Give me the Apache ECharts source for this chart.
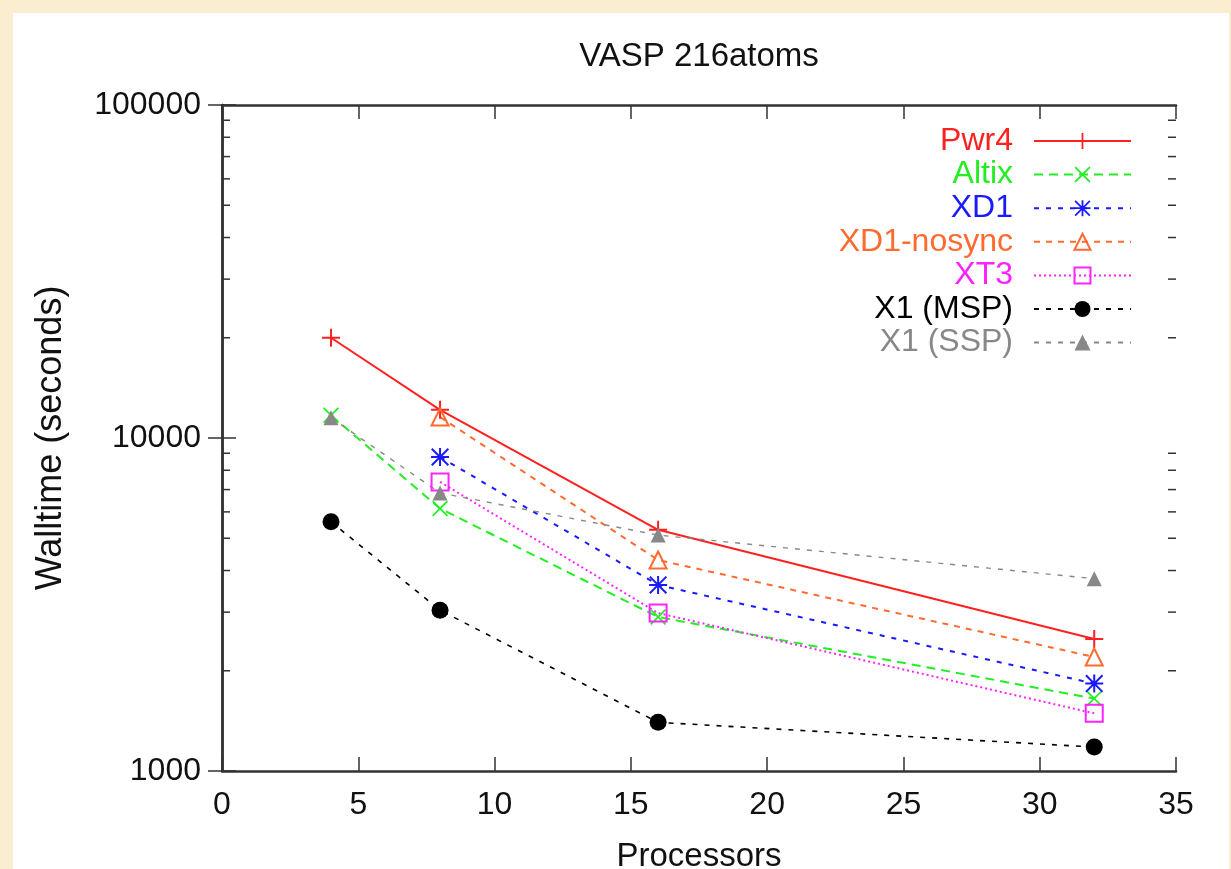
<!DOCTYPE html>
<html>
<head>
<meta charset="utf-8">
<script src="https://cdn.jsdelivr.net/npm/echarts@6/dist/echarts.min.js"></script>
<style>
html,body{margin:0;padding:0;width:1231px;height:869px;background:#FBEDCF;overflow:hidden;}
#panel{position:absolute;left:13px;top:13px;width:1216px;height:856px;background:#ffffff;}
#chart{position:absolute;left:0;top:0;width:1231px;height:869px;}
</style>
</head>
<body>
<div id="panel"></div>
<div id="chart"></div>
<script>
// ---- data ----
const processors = [4, 8, 16, 32];
const seriesNames = ['Pwr4', 'Altix', 'XD1', 'XD1-nosync', 'XT3', 'X1 (MSP)', 'X1 (SSP)'];
const pwr4   = [20000, 12150, 5300, 2490];
const altix  = [11700, 6140, 2900, 1650];
const xd1    = [null, 8770, 3620, 1830];
const nosync = [null, 11560, 4300, 2200];
const xt3    = [null, 7380, 2980, 1490];
const x1msp  = [5600, 3040, 1400, 1180];
const x1ssp  = [11500, 6840, 5110, 3780];
const xTicks = [0, 5, 10, 15, 20, 25, 30, 35];
const yTickLabels = { 1000: '1000', 10000: '10000', 100000: '100000' };
const yMinorTicks = [2000, 3000, 4000, 5000, 6000, 7000, 8000, 9000,
                     20000, 30000, 40000, 50000, 60000, 70000, 80000, 90000];

// ---- styling ----
const FONT = 'Liberation Sans';
const plusPath = 'path://M8,0h2v8h8v2h-8v8h-2v-8h-8v-2h8z';
const xPath = 'path://M0,1.4L1.4,0L18,16.6L16.6,18Z M16.6,0L18,1.4L1.4,18L0,16.6Z';
const starPath = 'path://M8,0h2v8h8v2h-8v8h-2v-8h-8v-2h8z M0,1.4L1.4,0L18,16.6L16.6,18Z M16.6,0L18,1.4L1.4,18L0,16.6Z';

const styles = [
  { color: '#FF2020', symbol: plusPath, size: 18, fill: true, dash: 'solid', width: 2 },
  { color: '#22EE22', symbol: xPath, size: 16, fill: true, dash: [9, 6], width: 2 },
  { color: '#1A1AFF', symbol: starPath, size: 18, fill: true, dash: [5, 7], width: 2 },
  { color: '#FF6A30', symbol: 'triangle', size: 17, fill: false, dash: [6, 6], width: 2 },
  { color: '#FF22FF', symbol: 'rect', size: 17, fill: false, dash: [2, 3], width: 2 },
  { color: '#000000', symbol: 'circle', size: 17, fill: true, dash: [5, 7], width: 1.6 },
  { color: '#888888', symbol: 'triangle', size: 15, fill: true, dash: [5, 7], width: 1.4 }
];
const allValues = [pwr4, altix, xd1, nosync, xt3, x1msp, x1ssp];

const series = seriesNames.map((name, i) => {
  const s = styles[i];
  const data = [];
  processors.forEach((p, j) => { if (allValues[i][j] != null) data.push([p, allValues[i][j]]); });
  return {
    name: name,
    type: 'line',
    data: data,
    symbol: s.symbol,
    symbolSize: s.size,
    showAllSymbol: true,
    animation: false,
    lineStyle: { color: s.color, width: s.width, type: s.dash },
    itemStyle: s.fill
      ? { color: s.color, borderWidth: 0 }
      : { color: 'rgba(255,255,255,0)', borderColor: s.color, borderWidth: 2 },
    emphasis: { disabled: true }
  };
});

const axisLineStyle = { color: '#333333', width: 2.5 };
const tickStyle = { color: '#333333', width: 1.5 };

const chart = echarts.init(document.getElementById('chart'), null, { renderer: 'canvas', width: 1231, height: 869 });
const option = {
  backgroundColor: 'transparent',
  animation: false,
  title: {
    text: 'VASP 216atoms',
    left: 699, textAlign: 'center', top: 40, padding: 0,
    textStyle: { fontFamily: FONT, fontSize: 33, fontWeight: 'normal', color: '#111' }
  },
  legend: {
    orient: 'vertical',
    right: 99, top: 125, padding: 0,
    align: 'right',
    itemWidth: 97, itemHeight: 20, itemGap: 1.6,
    textStyle: { fontFamily: FONT, fontSize: 32, lineHeight: 32, padding: [0, 16, 0, 0] },
    data: seriesNames.map((n, i) => ({ name: n, textStyle: { color: styles[i].color } })),
    selectedMode: false
  },
  grid: { left: 222, width: 954, top: 105, height: 666, containLabel: false, outerBoundsMode: 'none' },
  xAxis: [
    {
      type: 'value', min: 0, max: 35, interval: 5, position: 'bottom',
      name: 'Processors', nameLocation: 'middle', nameGap: 69,
      nameTextStyle: { fontFamily: FONT, fontSize: 33, color: '#111' },
      axisLine: { show: true, lineStyle: axisLineStyle },
      axisTick: { show: true, inside: true, length: 14, lineStyle: tickStyle },
      axisLabel: { margin: 18, fontFamily: FONT, fontSize: 32, color: '#111',
                   formatter: v => xTicks.includes(v) ? String(v) : '' },
      splitLine: { show: false }
    },
    {
      type: 'value', min: 0, max: 35, interval: 5, position: 'top',
      axisLine: { show: true, lineStyle: axisLineStyle },
      axisTick: { show: true, inside: true, length: 14, lineStyle: tickStyle },
      axisLabel: { show: false }, splitLine: { show: false }
    }
  ],
  yAxis: [
    {
      type: 'log', logBase: 10, min: 1000, max: 100000, position: 'left',
      name: 'Walltime (seconds)', nameLocation: 'middle', nameGap: 153,
      nameTextStyle: { fontFamily: FONT, fontSize: 36, color: '#111' },
      axisLine: { show: true, lineStyle: axisLineStyle },
      axisTick: { show: true, inside: true, length: 14, lineStyle: tickStyle },
      axisLabel: { margin: 21, fontFamily: FONT, fontSize: 32, color: '#111',
                   formatter: v => yTickLabels[Math.round(v)] || '' },
      splitLine: { show: false }
    },
    {
      type: 'log', logBase: 10, min: 1000, max: 100000, position: 'right',
      axisLine: { show: true, lineStyle: axisLineStyle },
      axisTick: { show: true, inside: true, length: 14, lineStyle: tickStyle },
      axisLabel: { show: false }, splitLine: { show: false }
    }
  ],
  series: series
};
chart.setOption(option);

// minor ticks on the log axes, positioned through the chart's own scale
const xLeft = chart.convertToPixel({ xAxisIndex: 0 }, 0);
const xRight = chart.convertToPixel({ xAxisIndex: 0 }, 35);
const minorGraphics = [];
yMinorTicks.forEach(v => {
  const y = chart.convertToPixel({ yAxisIndex: 0 }, v);
  minorGraphics.push({ type: 'line', shape: { x1: xLeft, y1: y, x2: xLeft + 8, y2: y }, style: { stroke: '#333', lineWidth: 1.5 }, z: 5 });
  minorGraphics.push({ type: 'line', shape: { x1: xRight - 8, y1: y, x2: xRight, y2: y }, style: { stroke: '#333', lineWidth: 1.5 }, z: 5 });
});
chart.setOption({ graphic: minorGraphics });
</script>
</body>
</html>
